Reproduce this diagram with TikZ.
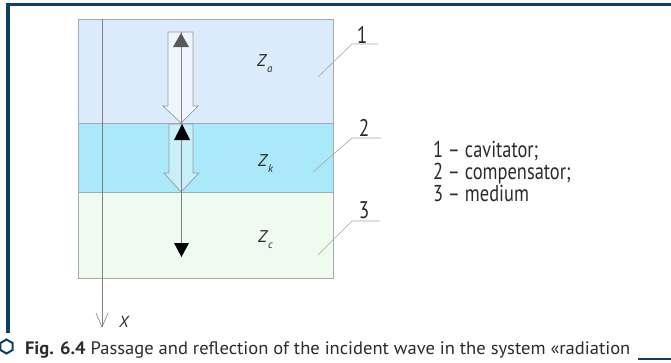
\documentclass[tikz,border=0pt]{standalone}
\usepackage{fontspec}
\setmainfont{PT Sans}
\newfontfamily\condfont[FakeStretch=0.8,Ligatures=TeX]{PT Sans}
\newfontfamily\capfont[FakeStretch=1.03,Ligatures=TeX]{PT Sans}
\usetikzlibrary{positioning,shapes.geometric}

\definecolor{framec}{HTML}{0B4263}
\definecolor{layerA}{HTML}{DCEBFB}
\definecolor{layerK}{HTML}{A9E9FA}
\definecolor{layerC}{HTML}{EFFBEE}
\definecolor{edgec}{HTML}{A3ABB2}
\definecolor{txtc}{HTML}{2B2B2B}

\def\Zl#1{\textit{Z}\raisebox{-6pt}{\fontsize{11}{11}\selectfont\textit{#1}}}

\tikzset{
    layer/.style={draw=edgec,line width=0.7pt},
    hollow/.style={draw=gray!80,line width=0.7pt},
    leader/.style={draw=gray!70,line width=0.6pt},
    zlbl/.style={font=\fontsize{17}{17}\selectfont,anchor=base west,text=txtc},
    numlbl/.style={font=\condfont\fontsize{24}{24}\selectfont,anchor=base,text=txtc},
    leg/.style={font=\condfont\fontsize{23}{23}\selectfont,anchor=base west,text=txtc},
}

\begin{document}
\begin{tikzpicture}[x=1pt,y=-1pt,inner sep=0pt,outer sep=0pt,node distance=22pt]
    \useasboundingbox (0,0) rectangle (671,362);

    % frame
    \fill[framec] (6,2.5) rectangle (671,6);
    \fill[framec] (6,2.5) rectangle (10,333);

    % layers
    \draw[layer,fill=layerA] (78,19) rectangle (333,123);
    \draw[layer,fill=layerK] (78,123) rectangle (333,192);
    \draw[layer,fill=layerC] (78,192) rectangle (333,278);

    % axis x
    \coordinate (ax0) at (102,19);
    \coordinate (ax1) at (102,327);
    \draw[gray,line width=0.6pt] (ax0) -- (ax1);
    \draw[gray,line width=0.6pt] (96,313) -- (ax1) -- (108,313);
    \node[zlbl,font=\fontsize{16}{16}\selectfont] (X) at (119,327) {\textit{X}};

    % hollow arrows
    \draw[hollow,fill=white,fill opacity=0.55] (168,32) -- (193,32) -- (193,106) -- (198,106)
        -- (181,123) -- (163,106) -- (168,106) -- cycle;
    \draw[hollow,fill=white,fill opacity=0.35] (169,124) -- (193,124) -- (193,173) -- (199,173)
        -- (181,192) -- (164,173) -- (169,173) -- cycle;

    % wave line
    \coordinate (w0) at (181,32);
    \coordinate (w1) at (181,250);
    \draw[gray,line width=0.6pt] (w0) -- (w1);
    \fill[black!65] (173,47) -- (181,33) -- (189,47) -- cycle;
    \fill[black] (174,140) -- (182,124) -- (190,140) -- cycle;
    \fill[black] (174,243) -- (189,243) -- (181.5,257) -- cycle;

    % impedances
    \node[zlbl] (Za) at (257,66) {\Zl{a}};
    \node[zlbl] (Zk) at (258,166) {\Zl{k}};
    \node[zlbl] (Zc) at (258,242) {\Zl{c}};

    % leaders
    \node[numlbl] (n1) at (362,43) {1};
    \node[numlbl] (n2) at (364,136) {2};
    \node[numlbl] (n3) at (364,218) {3};
    \coordinate (p1) at (318,77);
    \coordinate (p2) at (313,172);
    \coordinate (p3) at (318,255);
    \draw[leader] (p1) -- (352,44) -- (378,44);
    \draw[leader] (p2) -- (352,138) -- (381,138);
    \draw[leader] (p3) -- (352,221) -- (380,221);

    % legend
    \node[leg] (leg1) at (433,157) {1 -- cavitator;};
    \node[leg,below=of leg1.base west,anchor=base west] (leg2) {2 -- compensator;};
    \node[leg,below=of leg2.base west,anchor=base west] (leg3) {3 -- medium};

    % caption
    \node[regular polygon,regular polygon sides=6,shape border rotate=30,draw=framec,
        line width=2pt,minimum size=14pt] (hex) at (6.5,346.5) {};
    \node[anchor=base west,text=txtc,font=\capfont\fontsize{18}{18}\selectfont] (cap) at (25,354)
        {{\bfseries Fig. 6.4} Passage and reflection of the incident wave in the system «radiation};
    \draw[framec,line width=1.5pt] (638,359) -- (671,359);
\end{tikzpicture}
\end{document}
